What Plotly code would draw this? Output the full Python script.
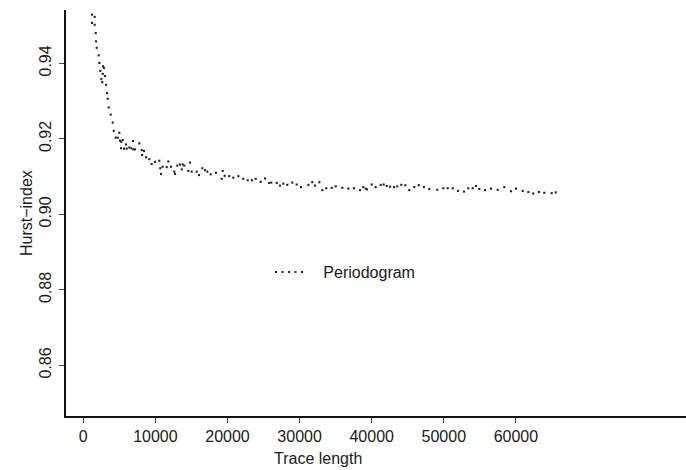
import plotly.graph_objects as go

# Trace lengths and Hurst-index estimates (Periodogram)
trace_length = [
    1207, 1581, 1207, 1581, 1720, 1761, 1859, 2136, 2219, 2732, 2871, 2358, 2691, 3010,
    2497, 2635, 3148, 3287, 3384, 3523, 3800, 4078, 4216, 4494, 4771, 4993, 5090, 5271,
    5465, 5922, 5229, 5645, 6020, 6380, 6658, 6935, 7171, 6900, 7767, 8100, 8419, 8150,
    8696, 9154, 9487, 9945, 10541, 10680, 10777, 11013, 11568, 11790, 12164, 12622, 12719,
    13038, 13412, 13787, 14009, 13648, 14564, 14799, 15035, 15729, 16048, 16505, 16880,
    17199, 17670, 18405, 19196, 19335, 19612, 20250, 20805, 21499, 22192, 22802, 23399,
    23912, 24605, 25202, 25798, 26076, 26825, 27282, 27740, 28295, 28988, 29599, 30195,
    31208, 31762, 32137, 32733, 33149, 33704, 34453, 35008, 35923, 36756, 37546, 38378,
    38836, 39169, 39349, 40001, 40556, 41249, 41665, 42082, 42539, 43094, 43552, 44107,
    44661, 45216, 45910, 46520, 47255, 47990, 49100, 49932, 50542, 51236, 51971, 52803,
    53400, 54010, 54467, 54925, 55716, 56548, 57477, 58393, 59322, 60015, 60945, 61722,
    62415, 63206, 63941, 64967, 65522,
]
hurst_index = [
    0.9529, 0.9523, 0.9507, 0.9502, 0.9480, 0.9458, 0.9441, 0.9421, 0.9401, 0.9392, 0.9388,
    0.9380, 0.9372, 0.9366, 0.9358, 0.9350, 0.9343, 0.9321, 0.9306, 0.9283, 0.9264, 0.9243,
    0.9221, 0.9203, 0.9203, 0.9216, 0.9195, 0.9192, 0.9197, 0.9185, 0.9175, 0.9174, 0.9174,
    0.9177, 0.9175, 0.9172, 0.9172, 0.9194, 0.9188, 0.9170, 0.9168, 0.9157, 0.9151, 0.9146,
    0.9133, 0.9139, 0.9142, 0.9122, 0.9107, 0.9126, 0.9125, 0.9140, 0.9126, 0.9113, 0.9107,
    0.9129, 0.9132, 0.9132, 0.9129, 0.9119, 0.9115, 0.9137, 0.9113, 0.9113, 0.9104, 0.9122,
    0.9117, 0.9113, 0.9106, 0.9110, 0.9094, 0.9115, 0.9102, 0.9101, 0.9097, 0.9101, 0.9094,
    0.9090, 0.9090, 0.9094, 0.9086, 0.9095, 0.9083, 0.9084, 0.9083, 0.9076, 0.9081, 0.9078,
    0.9084, 0.9079, 0.9072, 0.9078, 0.9085, 0.9076, 0.9085, 0.9064, 0.9069, 0.9070, 0.9074,
    0.9070, 0.9068, 0.9069, 0.9064, 0.9072, 0.9068, 0.9066, 0.9079, 0.9072, 0.9078, 0.9079,
    0.9075, 0.9073, 0.9072, 0.9074, 0.9078, 0.9077, 0.9064, 0.9072, 0.9077, 0.9072, 0.9067,
    0.9065, 0.9069, 0.9069, 0.9069, 0.9062, 0.9060, 0.9069, 0.9069, 0.9075, 0.9067, 0.9064,
    0.9068, 0.9065, 0.9072, 0.9061, 0.9068, 0.9062, 0.9059, 0.9055, 0.9059, 0.9057, 0.9056,
    0.9058,
]

x_ticks = [0, 10000, 20000, 30000, 40000, 50000, 60000]
x_tick_labels = ["0", "10000", "20000", "30000", "40000", "50000", "60000"]
y_ticks = [0.86, 0.88, 0.90, 0.92, 0.94]
y_tick_labels = ["0.86", "0.88", "0.90", "0.92", "0.94"]

FONT = "Liberation Sans, Arial, sans-serif"
INK = "#1a1a1a"

fig = go.Figure()
fig.add_trace(go.Scatter(
    x=trace_length, y=hurst_index, mode="markers",
    marker=dict(symbol="square", size=2.1, color="#222222", line=dict(width=0)),
    showlegend=False, hoverinfo="x+y",
))
# legend entry (dotted line)
fig.add_trace(go.Scatter(
    x=[None], y=[None], mode="lines",
    line=dict(color="#222222", width=2, dash="2px,4.5px"),
    name="\u00a0\u00a0\u00a0Periodogram", showlegend=True,
))

fig.update_layout(
    width=686, height=470,
    margin=dict(l=66, r=0, t=10, b=54, autoexpand=False),
    paper_bgcolor="white", plot_bgcolor="white",
    font=dict(family=FONT, size=16, color=INK),
    legend=dict(
        x=(270 - 66) / 620, y=(416 - 272) / 406, xanchor="left", yanchor="middle",
        bgcolor="rgba(0,0,0,0)", borderwidth=0, font=dict(size=16, color=INK),
        itemwidth=30,
    ),
    xaxis=dict(
        range=[-2400, 83594], showgrid=False, zeroline=False,
        showline=True, linecolor="#111111", linewidth=2,
        ticks="outside", ticklen=5, tickwidth=1, tickcolor="#444444",
        tickvals=x_ticks, ticktext=x_tick_labels, ticklabelstandoff=0,
        tickfont=dict(size=16, color=INK), automargin=False,
    ),
    yaxis=dict(
        range=[0.84657, 0.95412], showgrid=False, zeroline=False,
        showline=True, linecolor="#111111", linewidth=2,
        ticks="outside", ticklen=5, tickwidth=1, tickcolor="#444444",
        tickvals=y_ticks, ticktext=y_tick_labels, tickangle=-90,
        ticklabelstandoff=2,
        tickfont=dict(size=16, color=INK), automargin=False,
    ),
    annotations=[
        dict(text="Trace length", xref="paper", yref="paper",
             x=(318 - 66) / 620, y=0, xanchor="center", yanchor="middle",
             yshift=-42, showarrow=False, font=dict(size=16, color=INK)),
        dict(text="Hurst\u2212index", xref="paper", yref="paper",
             x=0, y=0.5, xanchor="center", yanchor="middle", xshift=-40,
             textangle=-90, showarrow=False, font=dict(size=16, color=INK)),
    ],
)

fig.write_html(
    "out.html",
    config={"displayModeBar": False},
    post_script="document.body.style.margin='0';document.body.style.padding='0';",
)
